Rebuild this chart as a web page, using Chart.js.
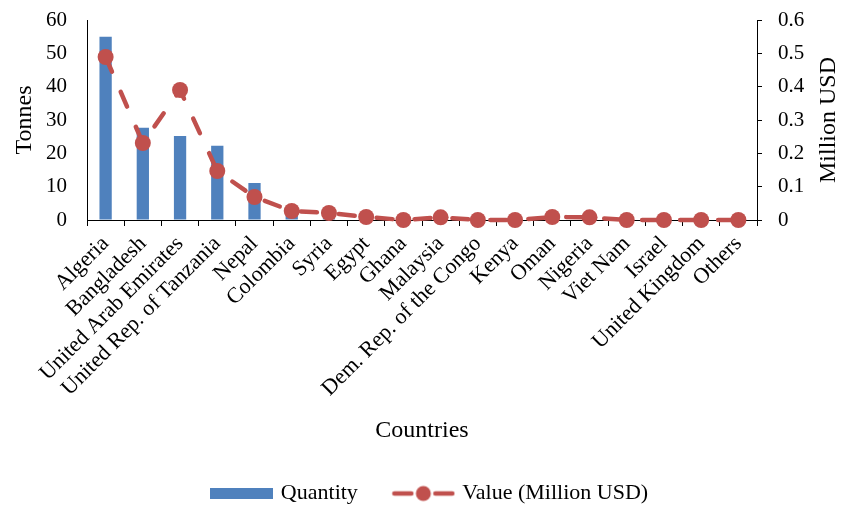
<!DOCTYPE html>
<html>
<head>
<meta charset="utf-8">
<script src="https://cdn.jsdelivr.net/npm/chart.js@4/dist/chart.umd.min.js"></script>
<style>
  html, body { margin: 0; padding: 0; background: #fff; }
  #wrap { width: 846px; height: 505px; }
</style>
</head>
<body>
<div id="wrap"><canvas id="chart" width="846" height="505"></canvas></div>
<script>
// Export destinations
const countries = [
  'Algeria', 'Bangladesh', 'United Arab Emirates', 'United Rep. of Tanzania', 'Nepal',
  'Colombia', 'Syria', 'Egypt', 'Ghana', 'Malaysia', 'Dem. Rep. of the Congo', 'Kenya',
  'Oman', 'Nigeria', 'Viet Nam', 'Israel', 'United Kingdom', 'Others'
];
// Quantity exported (tonnes)
const quantityTonnes = [55, 27.7, 25.2, 22.3, 11.1, 1.5, 0.5, 0.3, 0, 0.2, 0, 0, 0.2, 0.2, 0, 0, 0, 0];
// Export value (million USD)
const valueMillionUSD = [0.489, 0.231, 0.39, 0.147, 0.069, 0.027, 0.021, 0.009, 0, 0.008, 0, 0, 0.009, 0.008, 0, 0, 0, 0];

// Axis tick values and labels
const tonnesTicks = [0, 10, 20, 30, 40, 50, 60];
const usdTicks = [0, 0.1, 0.2, 0.3, 0.4, 0.5, 0.6];
const usdTickLabels = ['0', '0.1', '0.2', '0.3', '0.4', '0.5', '0.6'];

const xTitle = 'Countries';
const leftTitle = 'Tonnes';
const rightTitle = 'Million USD';

const BLUE = '#4F81BD';
const RED = '#C0504D';
const SERIF = '"Liberation Serif", "Times New Roman", Times, serif';

// Legend swatches: a plain bar block and a dashed line with a marker
function barSwatch() {
  const c = document.createElement('canvas');
  c.width = 63; c.height = 11;
  const g = c.getContext('2d');
  g.fillStyle = BLUE;
  g.fillRect(0, 0, 63, 11);
  return c;
}
function lineSwatch() {
  const c = document.createElement('canvas');
  c.width = 64; c.height = 18;
  const g = c.getContext('2d');
  g.strokeStyle = RED; g.lineWidth = 4.5; g.lineCap = 'round';
  g.beginPath(); g.moveTo(3, 9); g.lineTo(20, 9); g.stroke();
  g.beginPath(); g.moveTo(44, 9); g.lineTo(61, 9); g.stroke();
  g.fillStyle = RED;
  g.beginPath(); g.arc(32, 9, 7.5, 0, Math.PI * 2); g.fill();
  return c;
}
const swatches = [barSwatch(), lineSwatch()];

// Right-hand axis title, reading bottom to top like the left one
const rightTitlePlugin = {
  id: 'rightTitle',
  afterDraw(chart) {
    const { ctx, chartArea } = chart;
    ctx.save();
    ctx.translate(829, (chartArea.top + chartArea.bottom) / 2);
    ctx.rotate(-Math.PI / 2);
    ctx.font = '24px ' + SERIF;
    ctx.fillStyle = '#000';
    ctx.textAlign = 'center';
    ctx.textBaseline = 'middle';
    ctx.fillText(rightTitle, 0, 0);
    ctx.restore();
  }
};

// Vertical axes: keep their label overhang from pushing the plot area down
function fixVertical(width) {
  return scale => {
    scale.width = width;
    scale.paddingTop = 0;
    scale.paddingBottom = 0;
  };
}

new Chart(document.getElementById('chart'), {
  type: 'bar',
  data: {
    labels: countries,
    datasets: [
      {
        type: 'bar',
        label: 'Quantity',
        data: quantityTonnes,
        backgroundColor: BLUE,
        yAxisID: 'y',
        barPercentage: 0.33,
        categoryPercentage: 1,
        order: 2
      },
      {
        type: 'line',
        label: 'Value (Million USD)',
        data: valueMillionUSD,
        borderColor: RED,
        backgroundColor: RED,
        borderWidth: 4.5,
        borderDash: [16, 22],
        borderCapStyle: 'round',
        pointRadius: 8,
        pointBorderWidth: 0,
        pointBackgroundColor: RED,
        pointHoverRadius: 8,
        tension: 0,
        clip: false,
        yAxisID: 'y1',
        order: 1
      }
    ]
  },
  options: {
    responsive: false,
    devicePixelRatio: 1,
    animation: false,
    layout: { padding: { left: 16, right: 0, top: 20, bottom: 0 } },
    plugins: {
      tooltip: { enabled: false },
      legend: {
        position: 'bottom',
        maxHeight: 60,
        labels: {
          usePointStyle: true,
          pointStyleWidth: 56,
          padding: 37.5,
          color: '#000',
          font: { family: SERIF, size: 22 },
          generateLabels(chart) {
            return chart.data.datasets.map((ds, i) => ({
              text: ds.label,
              pointStyle: swatches[i],
              datasetIndex: i,
              hidden: false,
              fontColor: '#000',
              fillStyle: ds.backgroundColor,
              strokeStyle: ds.backgroundColor,
              lineWidth: 0
            }));
          }
        }
      }
    },
    scales: {
      x: {
        type: 'category',
        offset: true,
        grid: { display: true, drawOnChartArea: false, offset: true, color: '#000', tickLength: 6, tickWidth: 1 },
        border: { display: true, color: '#000', width: 1 },
        ticks: {
          color: '#000',
          font: { family: SERIF, size: 22 },
          minRotation: 45,
          maxRotation: 45,
          autoSkip: false,
          padding: 5
        },
        title: {
          display: true,
          text: xTitle,
          color: '#000',
          font: { family: SERIF, size: 24 },
          padding: { top: 0, bottom: 0 }
        },
        afterFit(scale) { scale.height = 225; }
      },
      y: {
        position: 'left',
        min: 0,
        max: 60,
        afterBuildTicks(axis) { axis.ticks = tonnesTicks.map(v => ({ value: v })); },
        grid: { display: true, drawOnChartArea: false, drawTicks: false },
        border: { display: true, color: '#000', width: 1 },
        ticks: {
          color: '#000',
          font: { family: SERIF, size: 21 },
          padding: 20
        },
        title: {
          display: true,
          text: leftTitle,
          color: '#000',
          font: { family: SERIF, size: 24, lineHeight: 1 },
          padding: { top: -3, bottom: 0 }
        },
        afterFit: fixVertical(71)
      },
      y1: {
        position: 'right',
        min: 0,
        max: 0.6,
        afterBuildTicks(axis) { axis.ticks = usdTicks.map(v => ({ value: v })); },
        grid: { display: true, drawOnChartArea: false, drawTicks: true, tickLength: 5, color: '#000' },
        border: { display: true, color: '#000', width: 1 },
        ticks: {
          color: '#000',
          font: { family: SERIF, size: 21 },
          padding: 16,
          callback: (v, i) => usdTickLabels[i]
        },
        afterFit: fixVertical(89)
      }
    }
  },
  plugins: [rightTitlePlugin]
});
</script>
</body>
</html>
